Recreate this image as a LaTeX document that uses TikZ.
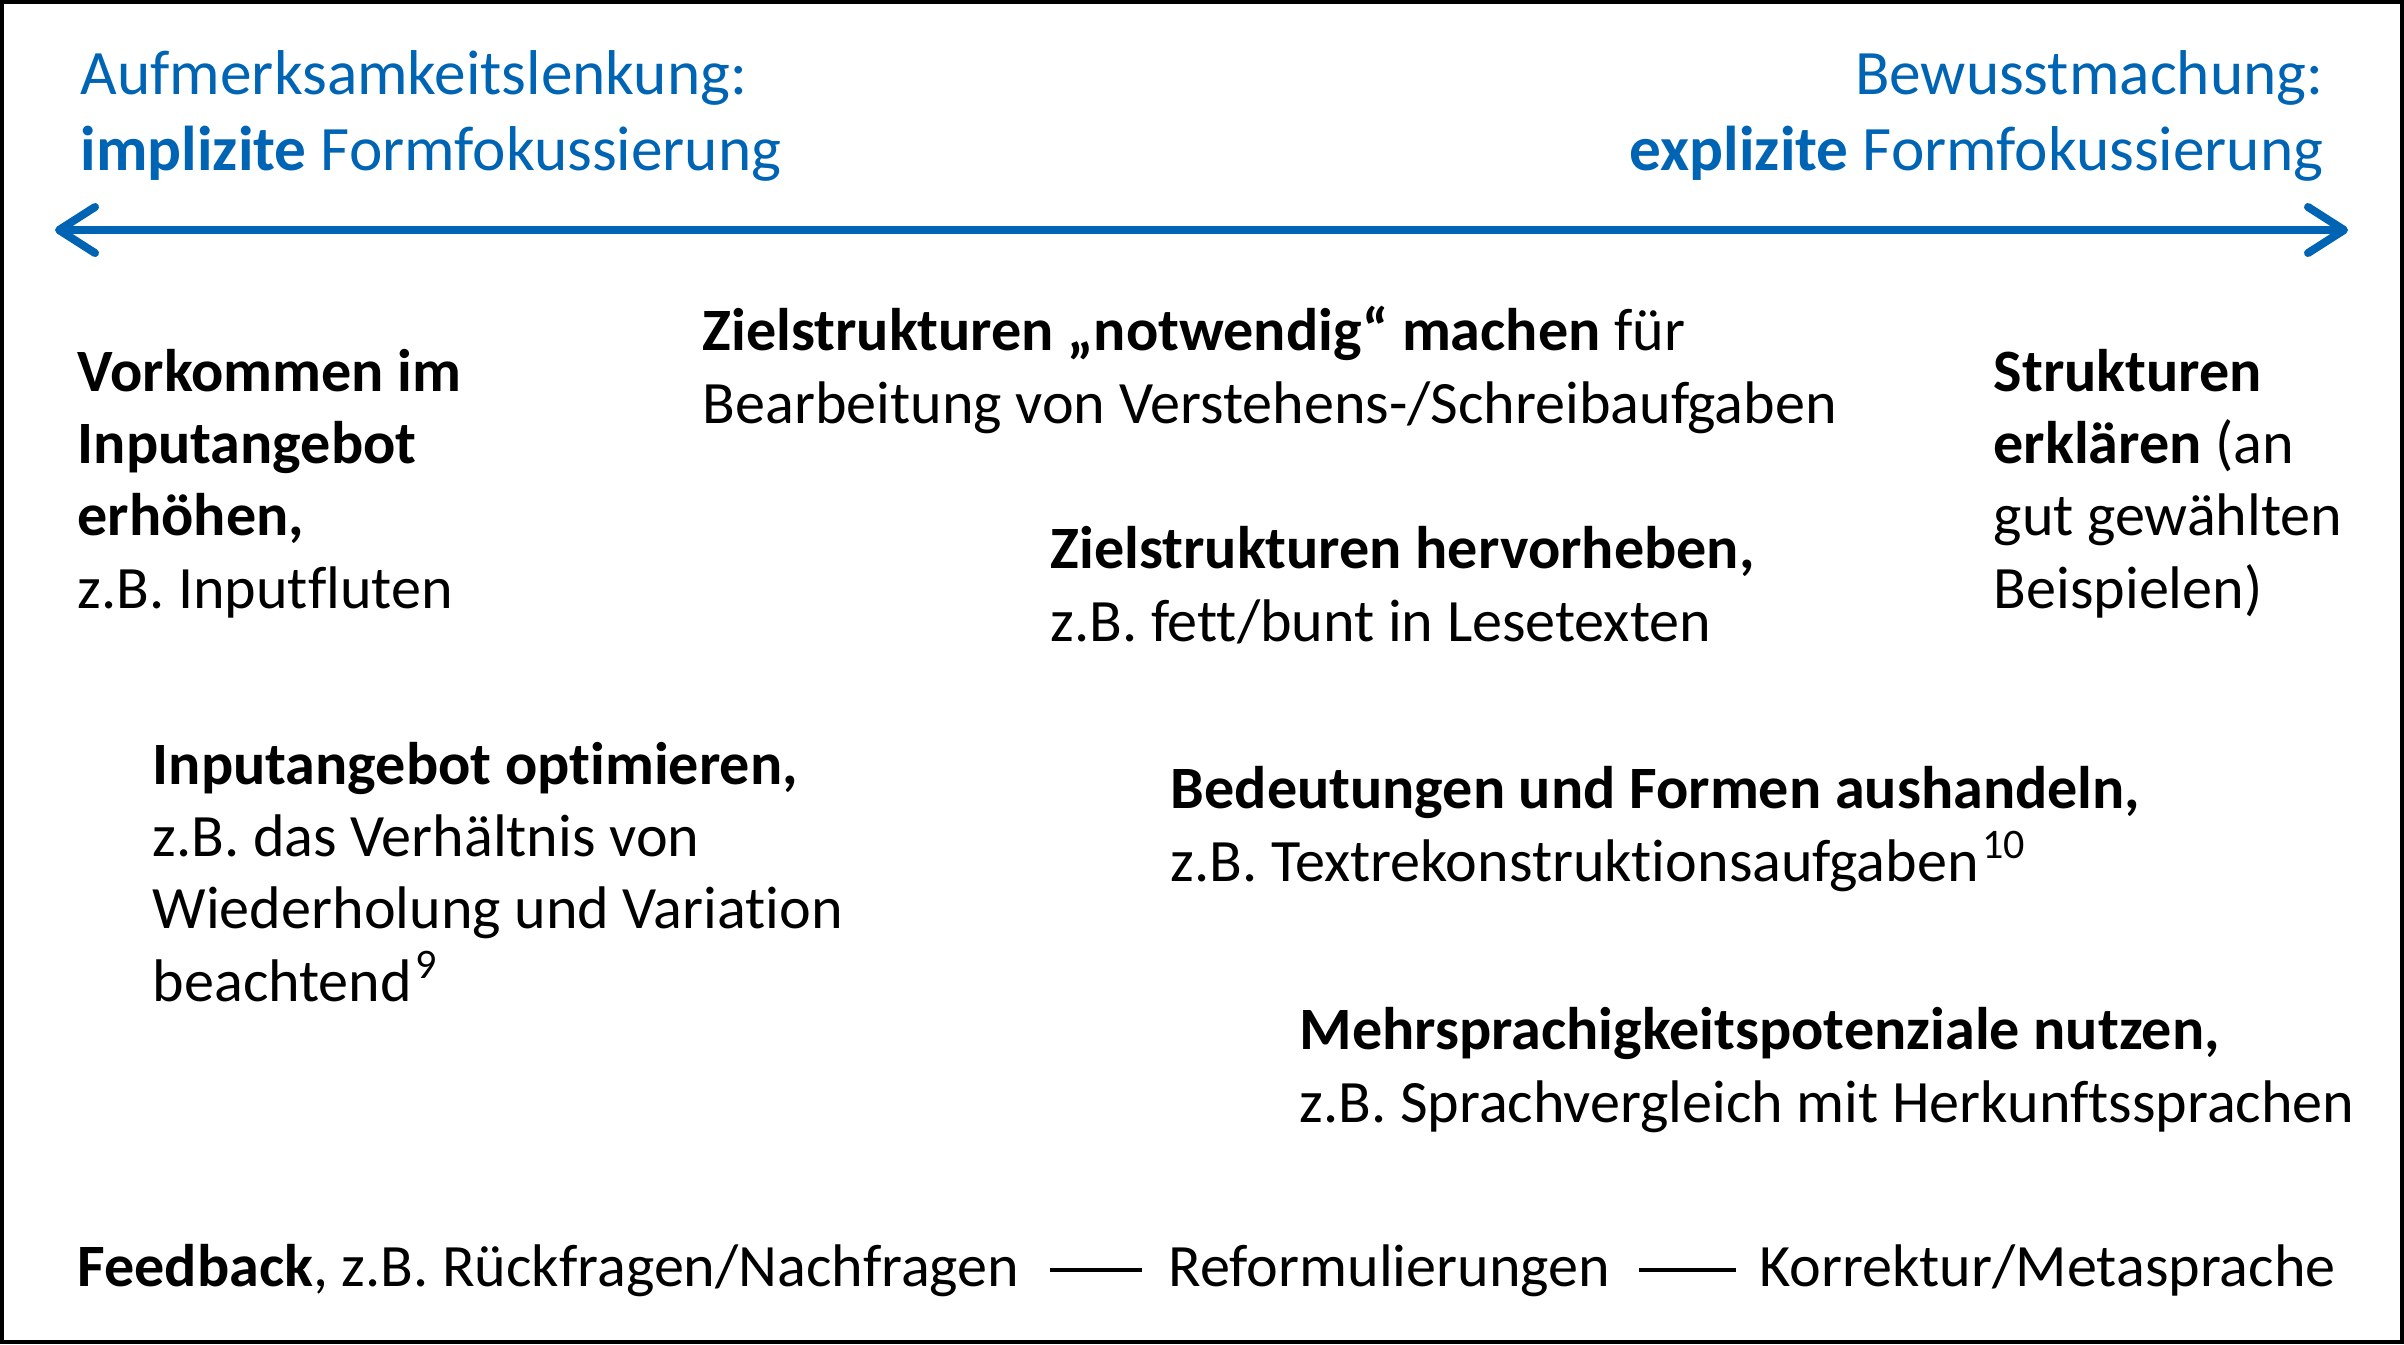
\documentclass[tikz,border=0pt]{standalone}
\usepackage{fontspec}
\setmainfont{Carlito}[Ligatures=NoCommon]
\usetikzlibrary{arrows.meta}
\definecolor{axisblue}{RGB}{0,100,180}
\tikzset{
  item/.style={anchor=base west, align=left, inner sep=0pt, font=\fontsize{17.1}{20.5}\selectfont},
  pole/.style={inner sep=0pt, text=axisblue, font=\fontsize{18}{21.6}\selectfont},
  axis/.style={axisblue, line width=0.08cm, {Straight Barb[length=0.36cm,width=0.46cm,round]}-{Straight Barb[length=0.36cm,width=0.46cm,round]}},
  dashline/.style={line width=0.04cm},
}
\begin{document}
\begin{tikzpicture}[x=0.01cm,y=-0.01cm]
\useasboundingbox (0,0) rectangle (2404,1344);
\draw[line width=0.04cm] (2,2) rectangle (2402,1342);

% poles of the axis (base = last line)
\node[pole, anchor=base west, align=left] (impl) at (80,170) {Aufmerksamkeitslenkung:\\\textbf{implizite} Formfokussierung};
\node[pole, anchor=base east, align=right] (expl) at (2324,170) {Bewusstmachung:\\\textbf{explizite} Formfokussierung};
\coordinate (pL) at (55,230);
\coordinate (pR) at (2348,230);
\draw[axis] (pL) -- (pR);

\node[item] (vorkommen) at (77,608) {\textbf{Vorkommen im}\\\textbf{Inputangebot}\\\textbf{erhöhen,}\\z.B. Inputfluten};
\node[item] (notwendig) at (702,423) {\textbf{Zielstrukturen „notwendig“ machen} für\\Bearbeitung von Verstehens-/Schreibaufgaben};
\node[item] (erklaeren) at (1993,608) {\textbf{Strukturen}\\\textbf{erklären} (an\\gut gewählten\\Beispielen)};
\node[item] (hervorheben) at (1050,641) {\textbf{Zielstrukturen hervorheben,}\\z.B. fett/bunt in Lesetexten};
\node[item] (optimieren) at (152,1001) {\textbf{Inputangebot optimieren,}\\z.B. das Verhältnis von\\Wiederholung und Variation\\beachtend\kern1pt\textsuperscript{9}};
\node[item] (aushandeln) at (1170,881) {\textbf{Bedeutungen und Formen aushandeln,}\\z.B. Textrekonstruktionsaufgaben\kern1pt\textsuperscript{10}};
\node[item] (mehrsprachig) at (1299,1122) {\textbf{Mehrsprachigkeitspotenziale nutzen,}\\z.B. Sprachvergleich mit Herkunftssprachen};

% feedback line
\node[item] (fb) at (77,1286) {\textbf{Feedback}, z.B. Rückfragen/Nachfragen};
\node[item] (reform) at (1168,1286) {Reformulierungen};
\node[item] (korr) at (1759,1286) {Korrektur/Metasprache};
\draw[dashline] ([xshift=0.3cm,yshift=0.16cm]fb.base east) -- ([xshift=-0.26cm,yshift=0.16cm]reform.base west);
\draw[dashline] ([xshift=0.28cm,yshift=0.16cm]reform.base east) -- ([xshift=-0.23cm,yshift=0.16cm]korr.base west);
\end{tikzpicture}
\end{document}
